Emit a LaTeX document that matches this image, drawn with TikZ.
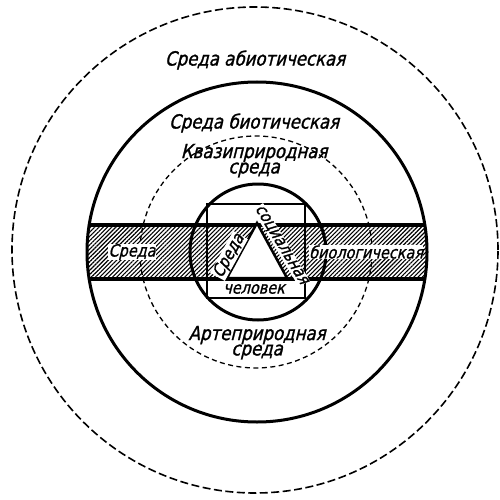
\documentclass[tikz,border=0pt]{standalone}
\usepackage{fontspec}
\newfontfamily\df[FakeSlant=0.25,FakeStretch=0.85,FakeBold=1.2]{DejaVu Sans}
\usetikzlibrary{patterns.meta}
\begin{document}
\begin{tikzpicture}[x=1pt,y=-1pt,
  lbl/.style={font=\df\fontsize{19.5}{19.5}\selectfont, inner sep=0.5pt},
  slbl/.style={font=\df\fontsize{17}{17}\selectfont, inner sep=0.3pt, fill=white},
  thickline/.style={line width=3pt},
  outerdash/.style={line width=1.6pt, dash pattern=on 8pt off 3.5pt},
  innerdash/.style={line width=1.3pt, dash pattern=on 5pt off 3.5pt},
  hatch/.style={pattern={Lines[angle=45,distance=3pt,line width=1.1pt]}}]
\useasboundingbox (0,0) rectangle (499,500);
\fill[white] (0,0) rectangle (499,500);
\coordinate (O) at (255,250);
\coordinate (B) at (257,252);
\coordinate (Q) at (256,252);
\coordinate (I) at (258,252);
% band
\begin{scope}
  \clip (B) circle (170pt);
  \fill[hatch] (80,225) rectangle (440,279);
  \draw[line width=3.5pt] (80,225) -- (440,225);
  \draw[line width=3.5pt] (80,279) -- (440,279);
\end{scope}
% circles
\draw[outerdash] (O) circle (243pt);
\draw[thickline] (B) circle (170pt);
\draw[innerdash] (Q) circle (116pt);
\draw[thickline] (I) circle (68pt);
% square
\draw[line width=2pt] (207,204) rectangle (305,298);
% triangle
\filldraw[fill=white, line width=2.5pt, line join=miter] (227,278) -- (257,223) -- (287,278) -- cycle;
% labels
\node[lbl] (abio) at (255,60) {Среда абиотическая};
\node[lbl] (bio) at (254,123) {Среда биотическая};
\node[lbl] (quasiA) at (254,153) {Квазиприродная};
\node[lbl] (quasiB) at (254,170) {среда};
\node[lbl] (arteA) at (257,335) {Артеприродная};
\node[lbl] (arteB) at (257,352) {среда};
\node[slbl, fill=none] (man) at (254,289) {человек};
\node[slbl] (bandA) at (132,252) {Среда};
\node[slbl] (bandB) at (366,252) {биологическая};
\node[slbl, rotate=61] (triA) at (229,256) {Среда};
\node[slbl, rotate=-59] (triB) at (281,245) {социальная};
\end{tikzpicture}
\end{document}
